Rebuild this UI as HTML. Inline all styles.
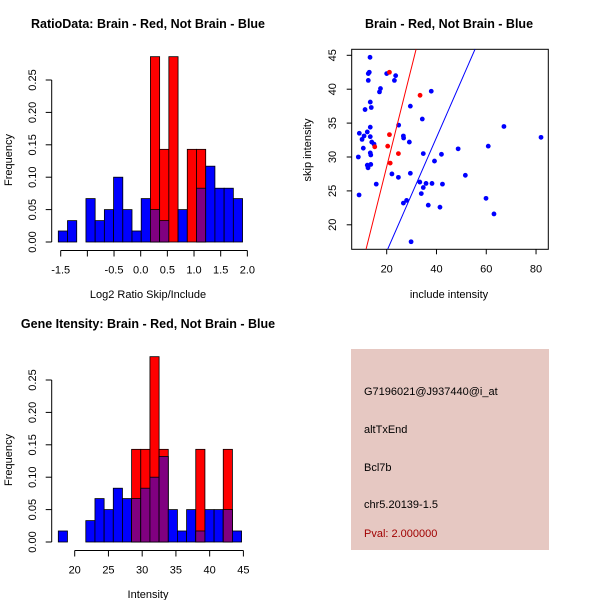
<!DOCTYPE html>
<html><head><meta charset="utf-8"><style>
body{margin:0;background:#fff}
svg{display:block;font-family:"Liberation Sans",sans-serif}
</style></head><body>
<svg id="c" width="600" height="600" xmlns="http://www.w3.org/2000/svg"></svg>
<script>
// Ratio histogram data (20 bins)
const ratioBinStart = -1.545, ratioBinWidth = 0.17275;
const ratioBlue = [0.017,0.033,0,0.067,0.033,0.05,0.1,0.05,0.017,0.067,0.05,0.033,0,0.05,0,0.083,0.117,0.083,0.083,0.067];
const ratioRed  = [0,0,0,0,0,0,0,0,0,0,0.286,0.143,0.286,0,0.143,0.143,0,0,0,0];
const ratioXTicks = [-1.5,-1.0,-0.5,0.0,0.5,1.0,1.5,2.0];
const ratioXLabels = ["-1.5","","-0.5","0.0","0.5","1.0","1.5","2.0"];
// Intensity histogram data
const intBinStart = 17.57, intBinWidth = 1.358;
const intBlue = [0.017,0,0,0.033,0.067,0.05,0.083,0.067,0.067,0.083,0.1,0.132,0.05,0.017,0.05,0.017,0.05,0.05,0.05,0.017];
const intRed  = [0,0,0,0,0,0,0,0,0.143,0.143,0.286,0.143,0,0,0,0.143,0,0,0.143,0];
const intXTicks = [20,25,30,35,40,45];
const freqTicks = [0,0.05,0.1,0.15,0.2,0.25];
const freqLabels = ["0.00","0.05","0.10","0.15","0.20","0.25"];
// Scatter data
const blueX = [13.3,12.6,13.0,12.6,20,23.6,23.1,17.5,17.1,37.9,13.4,11.3,13.8,29.5,34.3,24.8,13.4,9.0,10.9,12.2,10.1,13.4,26.7,26.8,29.1,14.0,14.9,10.6,13.4,13.6,8.6,12.2,12.5,13.6,22.1,24.7,29.5,15.8,34.7,42.0,39.2,48.7,60.8,67.1,82.0,51.6,33.3,34.7,35.8,38.2,42.4,33.9,8.9,26.7,28.0,36.7,41.4,59.9,63.1,29.8];
const blueY = [44.7,42.3,42.5,41.3,42.3,42.0,41.3,40.1,39.6,39.7,38.1,37.0,37.3,37.5,35.6,34.7,34.4,33.5,33.1,33.7,32.6,33.0,33.1,32.8,32.2,32.2,31.9,31.3,30.6,30.3,30.0,28.8,28.4,28.9,27.5,27.0,27.6,26.0,30.5,30.4,29.4,31.2,31.6,34.5,32.9,27.3,26.3,25.5,26.1,26.1,26.0,24.6,24.4,23.2,23.6,22.9,22.6,23.9,21.6,17.5];
const redX = [21.1,33.4,21.1,20.4,15.2,24.7,21.4];
const redY = [42.5,39.1,33.3,31.6,31.5,30.5,29.1];
const redLine = [11.7,16.4,31.8,45.9];
const blueLine = [20.4,16.4,55.5,45.9];
const scatXTicks = [20,40,60,80];
const scatYTicks = [20,25,30,35,40,45];

const NS="http://www.w3.org/2000/svg", svg=document.getElementById('c');
function el(tag,attrs,parent){const e=document.createElementNS(NS,tag);for(const k in attrs)e.setAttribute(k,attrs[k]);(parent||svg).appendChild(e);return e;}
function txt(s,x,y,opts,name){const t=el('text',Object.assign({x:x,y:y,'font-size':11,'text-anchor':'middle',fill:'#000'},opts||{}));t.textContent=s;


return t;}

function hist(prefix,top,binStart,binW,blue,red,xmin,xpxmin,pxPerUnit,xticks,xlabels,title,xlab){
  const g=el('g',{});
  
  
  const base=top+242, yk=32.4/0.05;
  const X=v=>xpxmin+(v-xmin)*pxPerUnit, Y=v=>base-v*yk;
  for(let i=0;i<blue.length;i++){
    const x0=X(binStart+i*binW), x1=X(binStart+(i+1)*binW);
    const b=blue[i], r=red[i], m=Math.min(b,r);
    if(b>0){const e=el('rect',{x:x0,y:Y(b),width:x1-x0,height:Y(0)-Y(b),fill:'#0000ff',stroke:'#000','stroke-width':0.8},g);
      
      }
    if(r>0){const e=el('rect',{x:x0,y:Y(r),width:x1-x0,height:Y(0)-Y(r),fill:'#ff0000',stroke:'#000','stroke-width':0.8},g);
      
      }
    if(m>0){const e=el('rect',{x:x0,y:Y(m),width:x1-x0,height:Y(0)-Y(m),fill:'#800080',stroke:'#000','stroke-width':0.8},g);
      
      }
  }
  // y axis
  const ax=51.7;
  el('line',{x1:ax,y1:Y(0),x2:ax,y2:Y(0.25),stroke:'#000'},g);
  freqTicks.forEach((v,i)=>{el('line',{x1:ax-6,y1:Y(v),x2:ax,y2:Y(v),stroke:'#000'},g);
    txt(freqLabels[i],36,Y(v),{transform:`rotate(-90 36 ${Y(v)})`},prefix+'-y-tick-label');});
  txt('Frequency',12,top+160,{transform:`rotate(-90 12 ${top+160})`},prefix+'-y-axis-title');
  // x axis
  const ay=top+250.5;
  el('line',{x1:X(xticks[0]),y1:ay,x2:X(xticks[xticks.length-1]),y2:ay,stroke:'#000'},g);
  xticks.forEach((v,i)=>{el('line',{x1:X(v),y1:ay,x2:X(v),y2:ay+6,stroke:'#000'},g);
    if(xlabels[i])txt(xlabels[i],X(v),ay+23,{},prefix+'-x-tick-label');});
  txt(xlab,148,top+298,{},prefix+'-x-axis-title');
  txt(title,148,top+28,{'font-size':12.5,'font-weight':'bold'},prefix+'-title');
}
hist('ratio',0,ratioBinStart,ratioBinWidth,ratioBlue,ratioRed,-1.5,60.7,53.33,ratioXTicks,ratioXLabels,'RatioData: Brain - Red, Not Brain - Blue','Log2 Ratio Skip/Include');
hist('intensity',300,intBinStart,intBinWidth,intBlue,intRed,20,74.7,6.748,intXTicks,intXTicks.map(String),'Gene Itensity: Brain - Red, Not Brain - Blue','Intensity');

// Scatter
(function(){
  const g=el('g',{});
  
  
  const SX=v=>386.7+(v-20)*2.489, SY=v=>55.3+(45-v)*6.78;
  const L=351.7,R=548.3,T=49.3,B=249.3;
  const cp=el('clipPath',{id:'sc'},g); el('rect',{x:L,y:T,width:R-L,height:B-T},cp);
  const fr=el('rect',{x:L,y:T,width:R-L,height:B-T,fill:'none',stroke:'#000'},g);
  
  
  blueX.forEach((x,i)=>{const c=el('circle',{cx:SX(x),cy:SY(blueY[i]),r:2.4,fill:'#0000ff'},g);
    
    });
  redX.forEach((x,i)=>{const c=el('circle',{cx:SX(x),cy:SY(redY[i]),r:2.4,fill:'#ff0000'},g);
    
    });
  const l1=el('line',{x1:SX(redLine[0]),y1:SY(redLine[1]),x2:SX(redLine[2]),y2:SY(redLine[3]),stroke:'#ff0000','clip-path':'url(#sc)'},g);
  
  
  const l2=el('line',{x1:SX(blueLine[0]),y1:SY(blueLine[1]),x2:SX(blueLine[2]),y2:SY(blueLine[3]),stroke:'#0000ff','clip-path':'url(#sc)'},g);
  
  
  scatXTicks.forEach(v=>{el('line',{x1:SX(v),y1:B,x2:SX(v),y2:B+5,stroke:'#000'},g);txt(String(v),SX(v),B+23,{},'scatter-x-tick-label');});
  scatYTicks.forEach(v=>{el('line',{x1:L-5,y1:SY(v),x2:L,y2:SY(v),stroke:'#000'},g);txt(String(v),336,SY(v),{transform:`rotate(-90 336 ${SY(v)})`},'scatter-y-tick-label');});
  txt('include intensity',449,298,{},'scatter-x-axis-title');
  txt('skip intensity',311,150,{transform:'rotate(-90 311 150)'},'scatter-y-axis-title');
  txt('Brain - Red, Not Brain - Blue',449,28,{'font-size':12.5,'font-weight':'bold'},'scatter-title');
})();

// Info box
(function(){
  const g=el('g',{});
  
  
  el('rect',{x:351,y:349,width:198,height:201,fill:'#e6c8c2'},g);
  const lines=[['G7196021@J937440@i_at',395,'#000','probe-id'],['altTxEnd',433,'#000','event-type'],['Bcl7b',471,'#000','gene-name'],['chr5.20139-1.5',508,'#000','location'],['Pval: 2.000000',537,'#a00000','pval']];
  lines.forEach(l=>{const t=txt(l[0],364,l[1],{'text-anchor':'start',fill:l[2]},l[3]+'-text');g.appendChild(t);});
})();
</script>
</body></html>
